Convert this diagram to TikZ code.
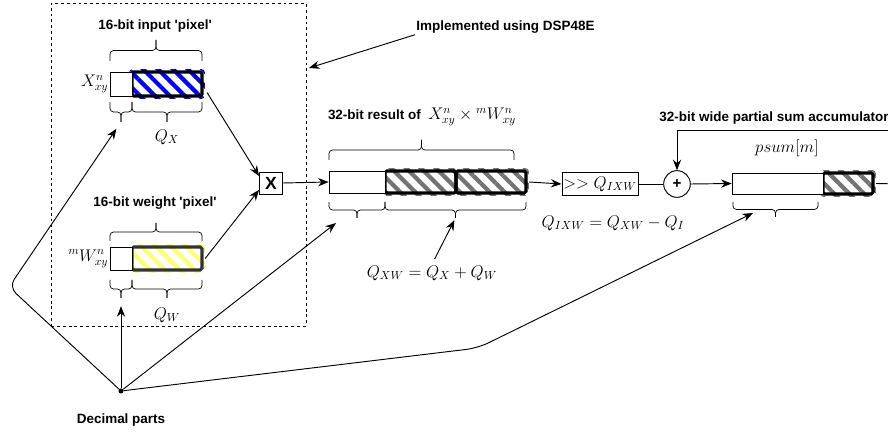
\documentclass[tikz,border=0pt]{standalone}
\usepackage{amsmath,amssymb}
\usepackage{fontspec}
\setsansfont{Liberation Sans}
\usepackage{tikz}
\usetikzlibrary{arrows.meta,patterns.meta,fit}

% curly brace: x1, x2, y of the ends, y of the tip, name of the tip
\newcommand{\regbrace}[5]{%
  \draw[brcline] (#1,#3) -- (#1,{(#3+#4)/2}) -- ({(#1+#2)/2},{(#3+#4)/2}) -- ({(#1+#2)/2},#4);
  \draw[brcline] ({(#1+#2)/2},#4) -- ({(#1+#2)/2},{(#3+#4)/2}) -- (#2,{(#3+#4)/2}) -- (#2,#3);
  \coordinate (#5) at ({(#1+#2)/2},#4);}

\tikzset{
  lbl/.style={font=\sffamily\bfseries\fontsize{11.5}{13}\selectfont, inner sep=1pt},
  mth/.style={font=\fontsize{14}{16}\selectfont, inner sep=1pt},
  arr/.style={line width=0.8pt, -{Stealth[length=9pt,width=7pt]}},
  wire/.style={line width=0.8pt},
  brcline/.style={line width=0.6pt, rounded corners=3pt},
  reg/.style={draw, line width=0.6pt, fill=white, inner sep=0},
  frame/.style={line width=2.6pt, rounded corners=1.5pt},
  hatch/.style={inner sep=2.5pt, rounded corners=3pt,
    pattern={Lines[angle=-45,distance=9pt,line width=3.6pt]}},
  dspbox/.style={draw, line width=0.7pt, dash pattern=on 2.5pt off 2.5pt, inner sep=0},
}

\begin{document}
\begin{tikzpicture}[x=0.03cm,y=0.03cm]
\useasboundingbox (0,0) rectangle (888,-433);
\clip (0,0) rectangle (888,-433);
% DSP48E block
\node[dspbox, fit={(51,-3) (306,-326)}] (dsp) {};
\node[lbl, anchor=west] (impl) at (415,-27) {Implemented using DSP48E};
\coordinate (dspin) at (309,-68);
\draw[arr] (impl.south west) -- (dspin);
% input pixel
\node[lbl] (intitle) at (155,-26) {16-bit input \textquotesingle pixel\textquotesingle};
\node[hatch, pattern color=blue, fit={(132,-72) (202,-96)}] (inF) {};
\draw[frame] (132,-72) rectangle (202,-96);
\node[reg, fit={(110,-72) (132,-96)}] (inI) {};
\node[mth, anchor=east] (xlab) at (inI.west) {$X^n_{xy}$};
\regbrace{110}{202}{-61}{-40}{inT}
\regbrace{110}{132}{-102}{-122}{inQl}
\regbrace{132}{202}{-102}{-122}{inQr}
\node[mth] (qx) at (167,-137) {$Q_X$};
% weight pixel
\node[lbl] (wtitle) at (155,-203) {16-bit weight \textquotesingle pixel\textquotesingle};
\node[hatch, pattern color=yellow!55, fit={(132,-247) (202,-270)}] (wF) {};
\draw[frame, black!80] (132,-247) rectangle (202,-270);
\node[reg, fit={(110,-247) (132,-270)}] (wI) {};
\node[mth, anchor=east] (wlab) at (wI.west) {${}^{m}W^n_{xy}$};
\regbrace{110}{202}{-241}{-223}{wT}
\regbrace{110}{132}{-280}{-298}{wQl}
\regbrace{132}{202}{-280}{-298}{wQr}
\node[mth] (qw) at (167,-315) {$Q_W$};
% multiplier
\node[draw, line width=0.8pt, minimum width=0.69cm, minimum height=0.66cm, inner sep=0,
  font=\sffamily\bfseries\fontsize{15}{17}\selectfont] (mult) at (271,-183) {X};
\draw[arr] (inF.-12) -- (mult.150);
\draw[arr] (wF.east) -- (mult.210);
% 32-bit product
\node[lbl] (restitle) at (422,-117) {32-bit result of \ {\fontsize{14}{16}\selectfont$X^n_{xy}\times{}^{m}W^n_{xy}$}};
\node[hatch, pattern color=black!55, fit={(385,-171) (526,-193)}] (resF) {};
\draw[frame] (385,-171) rectangle (456,-193);
\draw[frame] (456,-171) rectangle (526,-193);
\node[reg, fit={(329,-171) (385,-193)}] (resI) {};
\regbrace{329}{514}{-160}{-140}{resT}
\regbrace{329}{385}{-202}{-218}{resQl}
\regbrace{385}{526}{-202}{-218}{resQr}
\node[mth] (qxw) at (432,-273) {$Q_{XW} = Q_X + Q_W$};
\draw[arr, shorten <=5pt, shorten >=2pt] (qxw.north) -- (resQr);
\draw[arr] (mult.east) -- (resI.west);
% shift
\node[draw, line width=0.8pt, minimum width=2.28cm, minimum height=0.69cm, inner sep=0, mth] (shift) at (600,-184) {$>> Q_{IXW}$};
\node[mth] (qixw) at (613,-223) {$Q_{IXW} = Q_{XW} - Q_I$};
\draw[arr] (resF.east) -- (shift.west);
% accumulator
\node[draw, circle, line width=0.8pt, minimum size=0.8cm, inner sep=0,
  font=\sffamily\bfseries\fontsize{13}{15}\selectfont] (plus) at (677,-184) {+};
\node[hatch, pattern color=black!55, fit={(823,-173) (873,-194)}] (accF) {};
\draw[frame] (823,-173) rectangle (873,-194);
\node[reg, fit={(732,-173) (823,-194)}] (accI) {};
\node[mth] (psum) at (787,-148) {$psum[m]$};
\regbrace{733}{818}{-202}{-217}{accQ}
\node[lbl, anchor=west] (acctitle) at (658,-118) {32-bit wide partial sum accumulator};
\coordinate (accout) at (900,-184);
\coordinate (fbin) at (900,-130);
\draw[wire] (shift.east) -- (plus.west);
\draw[arr] (plus.east) -- (accI.west);
\draw[wire] (accF.east) -- (accout);
\draw[arr] (fbin) -| (plus.north);
% decimal parts
\node[circle, fill, inner sep=0, minimum size=0.15cm] (dec) at (121,-391) {};
\node[lbl] (declab) at (121,-420) {Decimal parts};
\coordinate (resdec) at (336,-223);
\coordinate (accdec) at (753,-213);
\draw[arr, rounded corners=8pt, shorten >=7pt] (dec) -- (9,-287) -- (inQl);
\draw[arr, shorten >=7pt] (dec) -- (wQl);
\draw[arr] (dec) -- (resdec);
\draw[arr, rounded corners=10pt] (dec) -- (478,-348) -- (accdec);
\end{tikzpicture}
\end{document}
